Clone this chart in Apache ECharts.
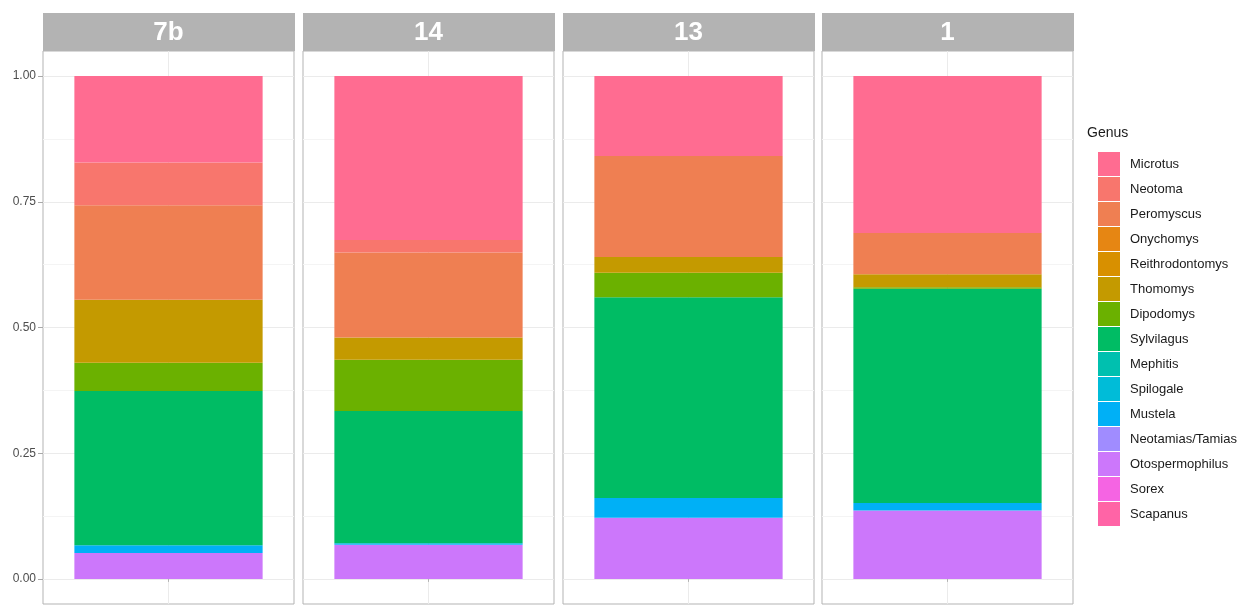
<!DOCTYPE html>
<html>
<head>
<meta charset="utf-8">
<script src="https://cdn.jsdelivr.net/npm/echarts@6/dist/echarts.min.js"></script>
<style>
  html, body { margin: 0; padding: 0; background: #ffffff; }
  #chart { width: 1241px; height: 607px; }
</style>
</head>
<body>
<div id="chart"></div>
<script>
// Facet (site) names, left to right
const sites = ['7b', '14', '13', '1'];

// Genus levels, in legend order (first level sits on top of each stack)
const genera = [
  'Microtus', 'Neotoma', 'Peromyscus', 'Onychomys', 'Reithrodontomys',
  'Thomomys', 'Dipodomys', 'Sylvilagus', 'Mephitis', 'Spilogale',
  'Mustela', 'Neotamias/Tamias', 'Otospermophilus', 'Sorex', 'Scapanus'
];

const genusColors = [
  '#FF6C91', '#F8766D', '#EF7F52', '#E68613', '#D89000',
  '#C49A00', '#6BB100', '#00BC64', '#00C0AF', '#00BCD8',
  '#00B0F6', '#A08CFF', '#CC77FB', '#F564E3', '#FF64A6'
];

// Proportion of each genus per site (same order as genera)
const site7b = [0.172, 0.085, 0.188, 0, 0, 0.125, 0.056, 0.307, 0, 0, 0.0155, 0, 0.0515, 0, 0];
const site14 = [0.326, 0.025, 0.169, 0, 0, 0.044, 0.102, 0.263, 0, 0, 0.003, 0, 0.068, 0, 0];
const site13 = [0.159, 0, 0.201, 0, 0, 0.031, 0.049, 0.399, 0, 0, 0.039, 0, 0.122, 0, 0];
const site1  = [0.312, 0, 0.082, 0, 0, 0.026, 0.003, 0.426, 0, 0, 0.015, 0, 0.136, 0, 0];

const siteValues = [site7b, site14, site13, site1];

// Layout of the facet panels
const panelLeft = [43, 303, 563, 822];
const panelWidth = 251;
const panelTop = 51;
const panelHeight = 553;
const dataTop = 76;
const dataHeight = 503;
const stripTop = 13;
const stripHeight = 38;

const FONT = '"Liberation Sans", Arial, sans-serif';

const grid = [];
const xAxis = [];
const yAxis = [];
const series = [];
const graphic = [];

sites.forEach(function (site, i) {
  // panel frame with the expanded (-0.05 .. 1.05) range
  grid.push({
    left: panelLeft[i], top: panelTop, width: panelWidth, height: panelHeight,
    show: true, borderColor: '#B3B3B3', borderWidth: 1, backgroundColor: '#ffffff'
  });
  // data region 0 .. 1
  grid.push({
    left: panelLeft[i], top: dataTop, width: panelWidth, height: dataHeight
  });

  xAxis.push({
    gridIndex: 2 * i, type: 'category', data: ['', '', ''], boundaryGap: false,
    axisLine: { show: false },
    axisLabel: { show: false },
    axisTick: { show: true, length: 3, interval: function (idx) { return idx === 1; },
                lineStyle: { color: '#B3B3B3' } },
    splitLine: { show: true, interval: function (idx) { return idx === 1; },
                 lineStyle: { color: '#EBEBEB', width: 1 } }
  });
  yAxis.push({ gridIndex: 2 * i, type: 'value', min: -0.05, max: 1.05, show: false });

  xAxis.push({
    gridIndex: 2 * i + 1, type: 'category', data: [site], show: false
  });
  yAxis.push({
    gridIndex: 2 * i + 1, type: 'value', min: 0, max: 1, interval: 0.25,
    axisLine: { show: false },
    axisTick: { show: i === 0, length: 5, lineStyle: { color: '#A8A8A8' } },
    axisLabel: {
      show: i === 0, margin: 7, color: '#4D4D4D', fontSize: 12, fontFamily: FONT,
      formatter: function (v) { return v.toFixed(2); }
    },
    splitLine: { show: true, lineStyle: { color: '#EBEBEB', width: 1 } },
    minorTick: { show: false, splitNumber: 2 },
    minorSplitLine: { show: true, lineStyle: { color: '#F4F4F4', width: 1 } }
  });

  // stack from the last level upwards so the first level ends on top
  for (let g = genera.length - 1; g >= 0; g--) {
    series.push({
      type: 'bar',
      name: genera[g],
      xAxisIndex: 2 * i + 1,
      yAxisIndex: 2 * i + 1,
      stack: 'site' + i,
      barWidth: '75%',
      data: [siteValues[i][g]],
      itemStyle: { color: genusColors[g] },
      emphasis: { disabled: true }
    });
  }

  // facet strip
  graphic.push({
    type: 'rect',
    shape: { x: panelLeft[i], y: stripTop, width: panelWidth + 1, height: stripHeight },
    style: { fill: '#B3B3B3' },
    silent: true
  });
  graphic.push({
    type: 'text',
    x: panelLeft[i] + panelWidth / 2,
    y: stripTop + stripHeight / 2 + 1,
    style: {
      text: site, fill: '#ffffff', font: 'bold 26px ' + FONT,
      textAlign: 'center', textVerticalAlign: 'middle'
    },
    silent: true
  });
});

graphic.push({
  type: 'text',
  x: 1087, y: 126,
  style: { text: 'Genus', fill: '#1A1A1A', font: '14px ' + FONT },
  silent: true
});

const chart = echarts.init(document.getElementById('chart'), null, { renderer: 'canvas' });
chart.setOption({
  animation: false,
  backgroundColor: '#ffffff',
  grid: grid,
  xAxis: xAxis,
  yAxis: yAxis,
  series: series,
  graphic: graphic,
  legend: {
    orient: 'vertical',
    left: 1098,
    top: 152,
    padding: 0,
    itemWidth: 22,
    itemHeight: 24,
    itemGap: 1,
    icon: 'rect',
    selectedMode: false,
    data: genera,
    itemStyle: { borderWidth: 0 },
    textStyle: {
      fontSize: 13, lineHeight: 16, color: '#1A1A1A', fontFamily: FONT,
      padding: [0, 0, 0, 5]
    }
  }
});
</script>
</body>
</html>
